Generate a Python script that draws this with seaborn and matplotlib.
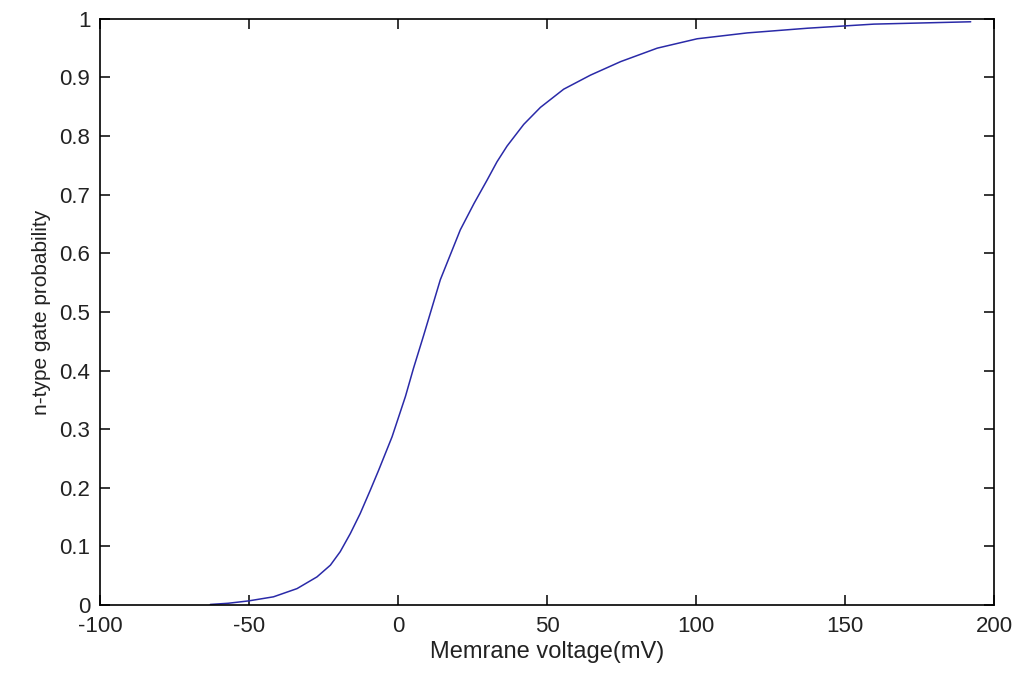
import pandas as pd
import matplotlib
matplotlib.use("Agg")
import matplotlib.pyplot as plt
import seaborn as sns

# --- DATA ---
voltage = [-63, -57, -50.2, -41.8, -33.9, -27.2, -22.7, -19.4, -16.0, -12.7,
           -9.3, -6.5, -2.0, 2.5, 5.2, 8.6, 14.2, 20.9, 25.5, 29.9,
           33.2, 36.6, 42.2, 47.8, 55.6, 64.6, 74.7, 87.0, 100.4, 117.2,
           137.4, 159.7, 192.2]
n_prob = [0.001, 0.003, 0.007, 0.014, 0.028, 0.048, 0.068, 0.091, 0.122, 0.156,
          0.196, 0.230, 0.287, 0.356, 0.404, 0.460, 0.555, 0.640, 0.685, 0.725,
          0.756, 0.783, 0.820, 0.849, 0.880, 0.904, 0.927, 0.950, 0.966, 0.976,
          0.984, 0.991, 0.995]

x_ticks = [-100, -50, 0, 50, 100, 150, 200]
y_ticks = [0, 0.1, 0.2, 0.3, 0.4, 0.5, 0.6, 0.7, 0.8, 0.9, 1]
y_tick_labels = ['0', '0.1', '0.2', '0.3', '0.4', '0.5', '0.6', '0.7', '0.8', '0.9', '1']

df = pd.DataFrame({'v': voltage, 'n': n_prob})

sns.set_style("white")
plt.rcParams['font.family'] = ['Liberation Sans', 'DejaVu Sans']

fig = plt.figure(figsize=(10.21, 6.73), dpi=100)
ax = fig.add_axes([0.098, 0.101, 0.8755, 0.871])

sns.lineplot(data=df, x='v', y='n', color='#2a2aa8', linewidth=1.1, ax=ax)

ax.set_xlim(-100, 200)
ax.set_ylim(0, 1)
ax.set_xticks(x_ticks)
ax.set_xticklabels([str(t) for t in x_ticks])
ax.set_yticks(y_ticks)
ax.set_yticklabels(y_tick_labels)

ax.tick_params(direction='in', length=7, width=1.1, color='black',
               labelsize=16, labelcolor='#222222', top=True, right=True,
               bottom=True, left=True)
ax.tick_params(axis='x', pad=8)
ax.tick_params(axis='y', pad=7)

for s in ax.spines.values():
    s.set_visible(True)
    s.set_color('black')
    s.set_linewidth(1.2)

ax.set_xlabel('Memrane voltage(mV)', fontsize=17, color='#222222', labelpad=3)
ax.set_ylabel('n-type gate probability', fontsize=15, color='#222222', labelpad=6,
              family=['Liberation Sans Narrow', 'Liberation Sans', 'DejaVu Sans'])

fig.savefig('out.png', dpi=100, facecolor='white')
